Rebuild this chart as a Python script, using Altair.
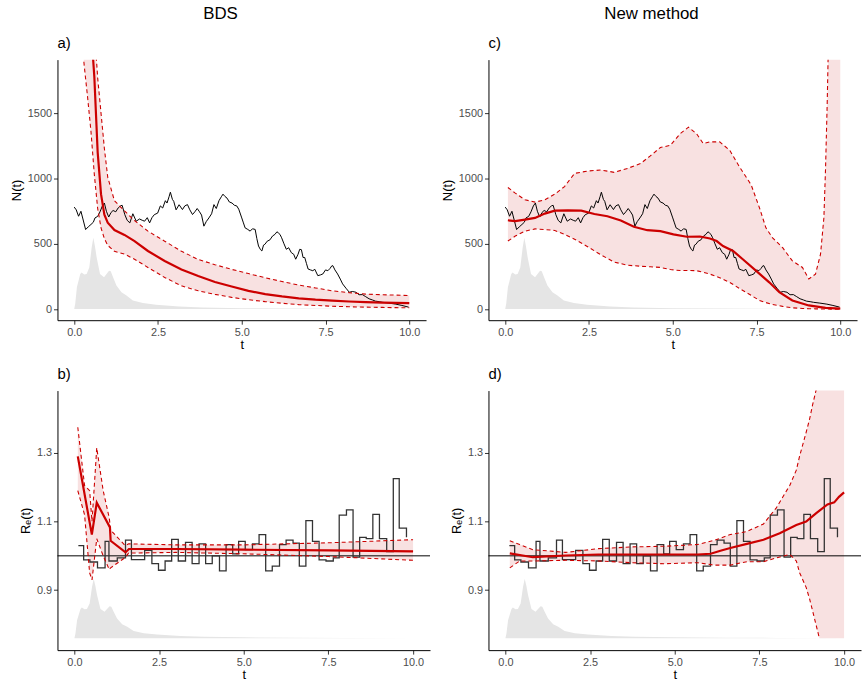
import altair as alt
import pandas as pd

FONT = "Liberation Sans"
RED = "#CC0000"
FILL = "#F8E1E1"
GREY = "#E5E5E5"

# ---------------- data ----------------
# simulated true trajectory N(t)
traj_t = [0.00, 0.06, 0.13, 0.20, 0.26, 0.34, 0.42, 0.50, 0.57, 0.62, 0.70, 0.77, 0.84, 0.90, 0.96,
          1.03, 1.10, 1.16, 1.24, 1.31, 1.38, 1.43, 1.51, 1.58, 1.66, 1.75, 1.85, 1.95, 2.03, 2.10,
          2.18, 2.25, 2.32, 2.39, 2.49, 2.57, 2.64, 2.72, 2.77, 2.83, 2.87, 2.93, 2.97, 3.04, 3.13,
          3.23, 3.30, 3.38, 3.45, 3.53, 3.60, 3.67, 3.74, 3.80, 3.87, 3.94, 4.02, 4.10, 4.17, 4.24,
          4.32, 4.39, 4.44, 4.50, 4.56, 4.63, 4.71, 4.78, 4.85, 4.91, 5.00, 5.05, 5.10, 5.18, 5.25,
          5.32, 5.40, 5.45, 5.50, 5.56, 5.60, 5.65, 5.69, 5.76, 5.84, 5.92, 5.99, 6.05, 6.09, 6.14,
          6.19, 6.26, 6.33, 6.40, 6.48, 6.55, 6.61, 6.68, 6.73, 6.78, 6.83, 6.88, 6.93, 6.98, 7.05,
          7.12, 7.18, 7.27, 7.35, 7.42, 7.50, 7.57, 7.63, 7.69, 7.72, 7.78, 7.86, 7.94, 8.01, 8.11,
          8.21, 8.30, 8.41, 8.50, 8.60, 8.70, 8.80, 8.90, 8.99, 9.10, 9.20, 9.39, 9.60, 9.78, 9.98]
traj_n = [781, 760, 711, 749, 690, 609, 630, 648, 665, 698, 710, 745, 790, 812, 749,
          705, 740, 755, 745, 774, 790, 795, 723, 680, 660, 730, 673, 690, 680, 673,
          700, 660, 700, 723, 735, 790, 774, 830, 812, 860, 895, 840, 825, 760, 799,
          762, 790, 800, 760, 724, 745, 770, 745, 720, 635, 670, 698, 730, 800, 770,
          830, 860, 880, 862, 850, 820, 812, 795, 790, 765, 698, 660, 622, 610, 597,
          615, 610, 540, 483, 455, 445, 490, 496, 520, 530, 560, 572, 592, 584, 572,
          546, 500, 458, 470, 432, 420, 382, 420, 458, 455, 395, 395, 350, 307, 300,
          294, 305, 256, 262, 269, 300, 294, 310, 332, 332, 300, 269, 230, 193, 160,
          129, 135, 129, 110, 111, 95, 79, 70, 61, 57, 52, 46, 38, 28, 15]

# sampling density (relative height, peak = 1)
dens_t = [0, 0.03, 0.08, 0.18, 0.22, 0.30, 0.37, 0.45, 0.52, 0.57, 0.62, 0.67, 0.77, 0.89, 0.97,
          1.04, 1.09, 1.16, 1.26, 1.41, 1.56, 1.75, 2.05, 2.44, 3.13, 3.82, 5.0, 6.5, 8.0, 10.0]
dens_v = [0, 0.075, 0.306, 0.493, 0.515, 0.485, 0.493, 0.584, 0.861, 1.0, 0.879, 0.723, 0.493,
          0.445, 0.495, 0.538, 0.531, 0.445, 0.330, 0.236, 0.190, 0.121, 0.084, 0.060, 0.037,
          0.022, 0.013, 0.007, 0.004, 0]

# panel a: BDS estimate of N(t)
a_t = [0.25, 0.3, 0.4, 0.5, 0.6, 0.7, 0.8, 0.9, 1.0, 1.2, 1.5, 1.8, 2.2, 2.7, 3.2, 3.7, 4.2,
       4.7, 5.2, 5.7, 6.2, 6.7, 7.2, 7.7, 8.2, 8.7, 9.2, 9.6, 10.0]
a_mid = [3000, 2800, 2500, 2150, 1780, 1200, 880, 723, 662, 605, 568, 521, 445, 368, 304, 253,
         208, 173, 140, 115, 97, 82, 72, 65, 58, 53, 50, 48, 46]
a_hi = [4000, 3800, 3200, 2700, 2150, 1770, 1500, 1230, 1010, 830, 752, 678, 597, 520, 443, 380,
        340, 304, 272, 240, 211, 184, 162, 140, 126, 115, 110, 107, 104]
a_lo = [2000, 1860, 1620, 1360, 1030, 770, 622, 540, 488, 442, 421, 382, 319, 242, 178, 140,
        113, 90, 72, 57, 45, 34, 28, 22, 18, 15, 13, 11, 10]

# panel c: new method estimate of N(t)
c_t = [0.08, 0.3, 0.59, 0.89, 1.18, 1.48, 1.77, 2.07, 2.46, 2.86, 3.25, 3.65, 4.04, 4.33, 4.63,
       4.93, 5.22, 5.47, 5.71, 5.91, 6.11, 6.4, 6.7, 6.99, 7.34, 7.59, 7.78, 7.98, 8.28, 8.57,
       8.87, 9.06, 9.26, 9.41, 9.51, 9.56, 9.61, 9.65, 9.7, 10.0]
c_hi = [931, 888, 837, 819, 837, 880, 938, 1039, 1057, 1065, 1047, 1077, 1115, 1173, 1237,
        1254, 1343, 1393, 1343, 1267, 1280, 1280, 1216, 1090, 951, 774, 622, 546, 470, 369,
        319, 230, 268, 420, 698, 1077, 1583, 2100, 3000, 5000]
c_lo = [521, 559, 597, 614, 609, 602, 572, 535, 478, 415, 360, 336, 328, 324, 319,
        303, 295, 296, 294, 282, 268, 240, 205, 158, 105, 66, 50, 35, 21, 10,
        5, 3, 2, 1, 1, 1, 1, 1, 0, 0]
c_mid_t = [0.08, 0.3, 0.59, 0.89, 1.18, 1.48, 1.87, 2.27, 2.66, 3.05, 3.45, 3.84, 4.24, 4.63,
           5.02, 5.42, 5.81, 6.11, 6.31, 6.5, 6.8, 7.09, 7.49, 7.88, 8.18, 8.57, 9.06, 9.56, 10.0]
c_mid = [680, 673, 685, 698, 731, 754, 756, 754, 728, 711, 678, 630, 604, 597, 572, 554, 556,
         541, 521, 483, 445, 382, 293, 205, 129, 66, 28, 10, 3]

# true effective reproduction number (step function)
step_t = [0.117, 0.273, 0.458, 0.682, 0.906, 1.02, 1.266, 1.509, 1.684, 1.88, 2.074, 2.288,
          2.483, 2.678, 2.872, 3.067, 3.281, 3.476, 3.681, 3.875, 4.07, 4.284, 4.479, 4.674,
          4.849, 5.044, 5.258, 5.453, 5.648, 5.842, 6.056, 6.251, 6.456, 6.641, 6.835, 7.03,
          7.225, 7.429, 7.644, 7.819, 8.033, 8.228, 8.423, 8.617, 8.812, 9.007, 9.221, 9.416,
          9.591, 9.805]
step_r = [1.030, 0.988, 0.982, 0.965, 1.042, 0.985, 0.994, 1.046, 0.989, 0.989, 1.016, 0.977,
          0.958, 0.985, 1.048, 0.985, 1.039, 0.977, 1.035, 0.977, 1.000, 0.956, 1.033, 1.006,
          1.042, 1.018, 1.035, 1.062, 0.956, 0.970, 1.033, 1.046, 1.037, 0.970, 1.103, 1.042,
          0.988, 0.985, 0.994, 1.119, 1.134, 0.996, 1.054, 1.050, 1.121, 1.050, 1.012, 1.225,
          1.081, 1.054]

# panel b: BDS estimate of Re(t)
b_t = [0.10, 0.30, 0.45, 0.52, 0.66, 0.85, 1.03, 1.07, 1.5, 1.6, 3.0, 5.0, 7.5, 10.0]
b_hi = [1.375, 1.205, 1.19, 1.10, 1.315, 1.19, 1.11, 1.075, 1.03, 1.035, 1.032, 1.032, 1.038, 1.047]
b_lo = [1.19, 1.12, 0.95, 0.93, 1.05, 1.00, 0.96, 0.965, 0.995, 1.008, 1.01, 1.006, 0.998, 0.987]
b_mid_t = [0.10, 0.515, 0.66, 1.05, 1.07, 1.51, 1.61, 3.0, 5.0, 7.5, 10.0]
b_mid = [1.290, 1.062, 1.155, 1.083, 1.044, 1.010, 1.020, 1.020, 1.018, 1.016, 1.013]

# panel d: new method estimate of Re(t)
d_t = [0.13, 0.42, 0.81, 1.78, 2.75, 3.73, 4.70, 5.67, 6.16, 6.64, 7.13, 7.62, 8.00, 8.40, 8.59,
       8.69, 8.88, 8.98, 9.07, 9.17, 9.27, 9.5, 10.0]
d_hi = [1.044, 1.033, 1.018, 1.01, 1.021, 1.026, 1.028, 1.033, 1.045, 1.062, 1.071, 1.093, 1.14,
        1.206, 1.25, 1.292, 1.36, 1.398, 1.44, 1.482, 1.53, 1.7, 2.0]
d_lo = [0.965, 0.985, 0.985, 0.987, 0.985, 0.980, 0.977, 0.980, 0.973, 0.973, 0.983, 0.983,
        0.994, 1.004, 0.985, 0.95, 0.908, 0.875, 0.84, 0.80, 0.76, 0.76, 0.76]
d_mid_t = [0.13, 0.81, 1.78, 2.75, 3.73, 4.70, 5.67, 6.06, 6.35, 6.64, 7.13, 7.62, 8.10, 8.59,
           8.88, 9.17, 9.51, 9.71, 9.85, 10.0]
d_mid = [1.007, 0.996, 1.001, 1.004, 1.004, 1.004, 1.004, 1.006, 1.015, 1.023, 1.035, 1.047,
         1.066, 1.090, 1.100, 1.124, 1.150, 1.156, 1.172, 1.185]

N_DOM = [-85, 1910]
N_TICKS = [0, 500, 1000, 1500]
R_DOM = [0.725, 1.482]
R_TICKS = [0.9, 1.1, 1.3]
DENS_N = (0, 546)      # baseline, peak height in N(t) panels
DENS_R = (0.76, 0.173)  # baseline, peak height in Re(t) panels

traj_df = pd.DataFrame({"t": traj_t, "v": traj_n})
step_df = pd.DataFrame({"t": step_t, "v": step_r})
dens_df = pd.DataFrame({"t": dens_t, "d": dens_v})


def X():
    return alt.X("t:Q", scale=alt.Scale(domain=[-0.5, 10.5], nice=False, zero=False),
                 axis=alt.Axis(values=[0, 2.5, 5, 7.5, 10], format=".1f", title="t",
                               titlePadding=2))


def Y(field, dom, ticks, title, fmt):
    return alt.Y(f"{field}:Q", scale=alt.Scale(domain=dom, nice=False, zero=False),
                 axis=alt.Axis(values=ticks, format=fmt, title=title))


def panel(label, dom, ticks, title, fmt, dens_base, band_df, mid_df, truth_df, step,
          lo_line_df, hline, w, h):
    base, amp = dens_base
    layers = []
    dens = alt.Chart(dens_df).transform_calculate(
        y=f"{base} + datum.d * {amp}", y0=f"{base}"
    ).mark_area(color=GREY, clip=True).encode(
        x=X(), y=Y("y", dom, ticks, title, fmt), y2="y0:Q")
    layers.append(dens)
    band = alt.Chart(band_df).mark_area(color=FILL, clip=True).encode(
        x=X(), y=Y("lo", dom, ticks, title, fmt), y2="hi:Q")
    layers.append(band)
    if hline:
        layers.append(alt.Chart(pd.DataFrame({"v": [1.0]})).mark_rule(
            color="black", strokeWidth=1).encode(y=Y("v", dom, ticks, title, fmt)))
    if step:
        truth = alt.Chart(truth_df).mark_line(
            color="#333333", strokeWidth=1.3, interpolate="step-after", clip=True).encode(
            x=X(), y=Y("v", dom, ticks, title, fmt))
    else:
        truth = alt.Chart(truth_df).mark_line(
            color="black", strokeWidth=1.0, clip=True).encode(
            x=X(), y=Y("v", dom, ticks, title, fmt))
    layers.append(truth)
    hi_line = alt.Chart(band_df).mark_line(
        color=RED, strokeWidth=1.1, strokeDash=[4, 3], clip=True).encode(
        x=X(), y=Y("hi", dom, ticks, title, fmt))
    lo_line = alt.Chart(lo_line_df).mark_line(
        color=RED, strokeWidth=1.1, strokeDash=[4, 3], clip=True).encode(
        x=X(), y=Y("lo", dom, ticks, title, fmt))
    mid = alt.Chart(mid_df).mark_line(color=RED, strokeWidth=2.2, clip=True).encode(
        x=X(), y=Y("v", dom, ticks, title, fmt))
    layers += [hi_line, lo_line, mid]
    return alt.layer(*layers).properties(
        width=w, height=h,
        title=alt.TitleParams(label, anchor="start", frame="group", fontSize=15,
                              fontWeight="normal", offset=9))


a_df = pd.DataFrame({"t": a_t, "lo": a_lo, "hi": a_hi})
c_df = pd.DataFrame({"t": c_t, "lo": c_lo, "hi": c_hi})
b_df = pd.DataFrame({"t": b_t, "lo": b_lo, "hi": b_hi})
d_df = pd.DataFrame({"t": d_t, "lo": d_lo, "hi": d_hi})
d_lo_df = d_df[d_df["t"] <= 9.27]

pa = panel("a)", N_DOM, N_TICKS, "N(t)", "d", DENS_N, a_df,
           pd.DataFrame({"t": a_t, "v": a_mid}), traj_df, False, a_df, False, 372, 263)
pc = panel("c)", N_DOM, N_TICKS, "N(t)", "d", DENS_N, c_df,
           pd.DataFrame({"t": c_mid_t, "v": c_mid}), traj_df, False, c_df, False, 372, 263)
pb = panel("b)", R_DOM, R_TICKS, "Rₑ(t)", ".1f", DENS_R, b_df,
           pd.DataFrame({"t": b_mid_t, "v": b_mid}), step_df, True, b_df, True, 376, 262)
pd_ = panel("d)", R_DOM, R_TICKS, "Rₑ(t)", ".1f", DENS_R, d_df,
            pd.DataFrame({"t": d_mid_t, "v": d_mid}), step_df, True, d_lo_df, True, 376, 262)

left = alt.vconcat(pa, pb, spacing=15).properties(
    title=alt.TitleParams("BDS", anchor="middle", fontSize=17, fontWeight="normal", offset=13))
right = alt.vconcat(pc, pd_, spacing=15).properties(
    title=alt.TitleParams("New method", anchor="middle", fontSize=17, fontWeight="normal", offset=13))

chart = alt.hconcat(left, right, spacing=10).properties(
    padding={"left": 10, "top": 2, "right": 0, "bottom": 0}
).configure_view(stroke=None).configure_axis(
    domainColor="black", domainWidth=1, tickColor="#333333", tickWidth=1, tickSize=4,
    labelColor="#4D4D4D", labelFontSize=11, labelFont=FONT, titleFont=FONT,
    titleFontSize=13, titleFontWeight="normal", titleColor="black", grid=False,
    labelPadding=2, titlePadding=4
).configure_title(font=FONT, color="black", fontWeight="normal")

chart.save("out.html", embed_options={"renderer": "svg", "actions": False})
